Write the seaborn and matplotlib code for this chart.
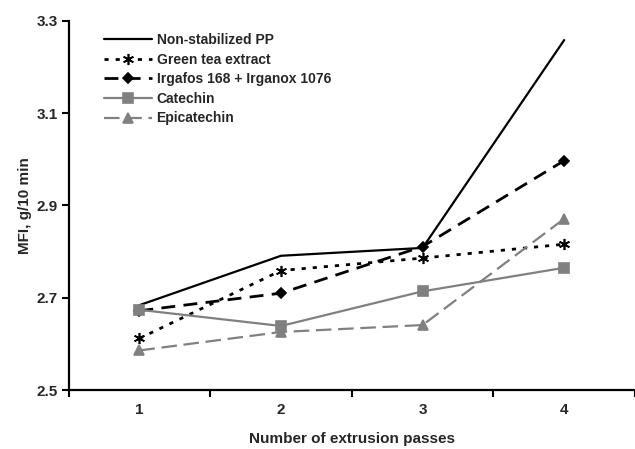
import matplotlib
matplotlib.use("Agg")
import matplotlib.pyplot as plt
import seaborn as sns
import pandas as pd
from matplotlib.ticker import FixedLocator, NullFormatter

passes = [1, 2, 3, 4]
non_stabilized = [2.684, 2.791, 2.808, 3.258]
green_tea = [2.612, 2.759, 2.786, 2.816]
irgafos = [2.672, 2.710, 2.811, 2.997]
catechin = [2.674, 2.639, 2.714, 2.765]
epicatechin = [2.586, 2.626, 2.641, 2.871]

names = ["Non-stabilized PP", "Green tea extract", "Irgafos 168 + Irganox 1076",
         "Catechin", "Epicatechin"]
series = [non_stabilized, green_tea, irgafos, catechin, epicatechin]

sns.set_theme(style="white")
plt.rcParams['font.family'] = ['Liberation Sans', 'DejaVu Sans']
plt.rcParams['font.weight'] = 'bold'

fig = plt.figure(figsize=(6.35, 4.49), dpi=100)
ax = fig.add_axes([0.108, 0.131, 0.892, 0.823])

styles = [
    dict(color="black", linestyle="-", marker=None, lw=1.6, ms=0),
    dict(color="black", linestyle=(0, (1.5, 2.5)), marker=(6, 2, 0), lw=2.0, ms=8),
    dict(color="black", linestyle=(0, (5, 3)), marker="D", lw=2.0, ms=5),
    dict(color="#808080", linestyle="-", marker="s", lw=1.6, ms=6.5),
    dict(color="#808080", linestyle=(0, (7, 3)), marker="^", lw=1.6, ms=6.5),
]

for name, vals, st in zip(names, series, styles):
    df = pd.DataFrame({"x": passes, "y": vals})
    kw = dict(color=st["color"], linewidth=st["lw"], label=name)
    sns.lineplot(data=df, x="x", y="y", ax=ax, **kw)
    line = ax.lines[-1]
    line.set_linestyle(st["linestyle"])
    if st["marker"] is not None:
        line.set_marker(st["marker"])
        line.set_markersize(st["ms"])
        line.set_markerfacecolor(st["color"])
        line.set_markeredgecolor(st["color"])
        line.set_markeredgewidth(1.2)

ax.set_xlim(0.5, 4.5)
ax.set_ylim(2.5, 3.3)
ax.set_yticks([2.5, 2.7, 2.9, 3.1, 3.3])
ax.set_yticklabels(["2.5", "2.7", "2.9", "3.1", "3.3"])
ax.set_xticks(passes)
ax.set_xticklabels([str(p) for p in passes])
ax.xaxis.set_minor_locator(FixedLocator([0.5, 1.5, 2.5, 3.5, 4.5]))
ax.xaxis.set_minor_formatter(NullFormatter())
ax.tick_params(axis="x", which="major", length=0, pad=9, labelsize=11)
ax.tick_params(axis="x", which="minor", length=5, width=1.5, color="black", direction="out", bottom=True)
ax.tick_params(axis="y", which="major", length=5, width=1.5, color="black", direction="out", left=True, labelsize=11, pad=3)

for s in ["top", "right"]:
    ax.spines[s].set_visible(False)
for s in ["left", "bottom"]:
    ax.spines[s].set_color("black")
    ax.spines[s].set_linewidth(1.6)

ax.set_xlabel("Number of extrusion passes", fontsize=11, fontweight="bold", labelpad=11)
ax.set_ylabel("MFI, g/10 min", fontsize=11, fontweight="bold", labelpad=3)
for lab in ax.get_xticklabels() + ax.get_yticklabels():
    lab.set_fontweight("bold")

leg = ax.legend(loc="upper left", bbox_to_anchor=(0.04, 1.0), frameon=False,
                handlelength=3.5, handletextpad=0.3, labelspacing=0.4,
                prop={"weight": "bold", "size": 10})

fig.savefig("out.png", dpi=100)
